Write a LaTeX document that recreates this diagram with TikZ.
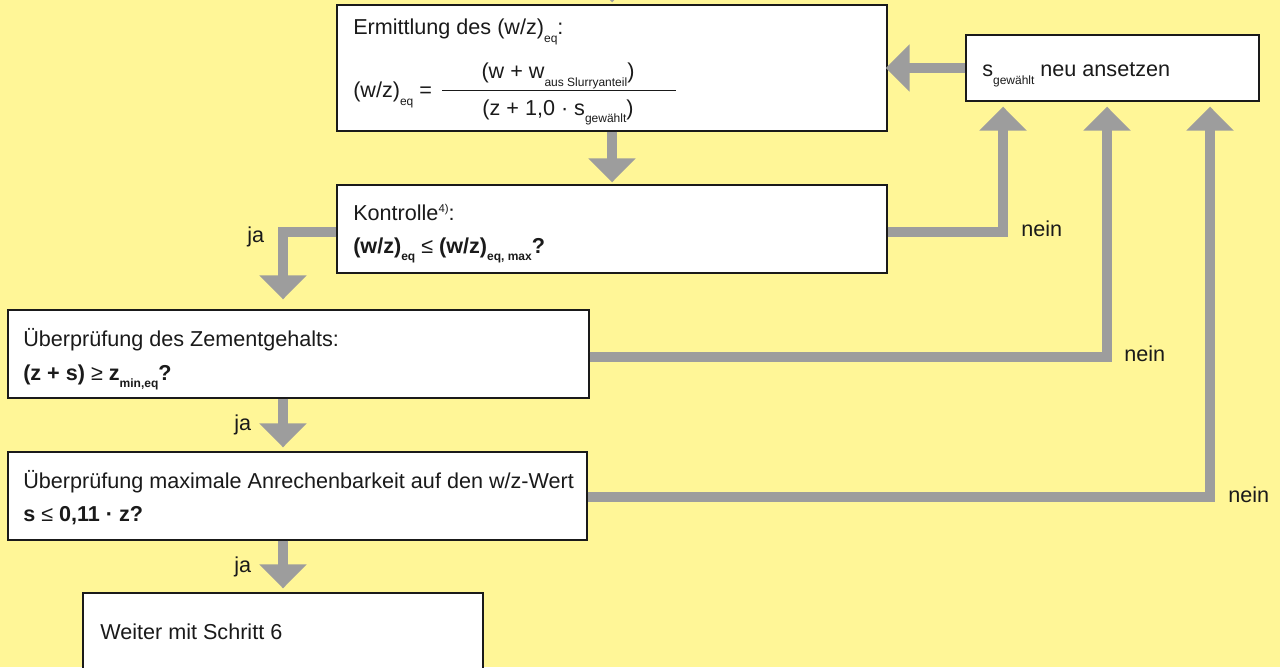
\documentclass[tikz,border=0pt]{standalone}
\usepackage{fontspec}
\setmainfont{Liberation Sans}
\usetikzlibrary{arrows.meta,calc}
\definecolor{bg}{HTML}{FFF697}
\definecolor{arr}{HTML}{9D9D9D}
\definecolor{ink}{HTML}{1A1A1A}
\newcommand{\sbx}[1]{\raisebox{-5.5pt}{\fontsize{9}{10}\selectfont #1}}
\newcommand{\spx}[1]{\raisebox{6pt}{\fontsize{8.5}{9}\selectfont #1}}
\begin{document}
\begin{tikzpicture}[x=0.75pt,y=-0.75pt,
  box/.style={draw=ink,line width=1pt,fill=white,inner sep=0pt,rectangle},
  flow/.style={draw=arr,line width=7.5pt,line join=miter,-{Triangle[length=18pt,width=34.5pt]}},
  txt/.style={anchor=base west,inner sep=0pt,text=ink,font=\fontsize{16.2}{19}\selectfont},
  lbl/.style={anchor=base west,inner sep=0pt,text=ink,font=\fontsize{16.2}{19}\selectfont}]
\useasboundingbox (0,0) rectangle (1280,667);
\clip (0,0) rectangle (1280,667);
\fill[bg] (0,0) rectangle (1280,667);
% boxes
\node[box,minimum width=412.5pt,minimum height=94.5pt] (b1) at (612,68) {};
\node[box,minimum width=219.75pt,minimum height=49.5pt] (bs) at (1112.5,68) {};
\node[box,minimum width=412.5pt,minimum height=66pt] (bk) at (612,229) {};
\node[box,minimum width=435.75pt,minimum height=66pt] (bz) at (298.5,354) {};
\node[box,minimum width=434.25pt,minimum height=66pt] (bm) at (297.5,496) {};
\node[box,minimum width=300pt,minimum height=95.25pt] (bw) at (283,656.5) {};
% helper coordinates
\coordinate (top) at (612,-40);
\coordinate (k1) at (1003,232);
\coordinate (k2) at (1107,357);
\coordinate (k3) at (1210,497);
\coordinate (j1) at (283,232);
% connectors
\draw[flow,shorten >=1.5pt] (top) -- (b1.north);
\draw[flow,shorten >=-1.5pt] (bs.west) -- (b1.east);
\draw[flow,shorten >=1.5pt] (b1.south) -- (bk.north);
\draw[flow,shorten >=3.75pt] ([yshift=-2.25pt]bk.east) -| (k1 |- bs.south);
\draw[flow,shorten >=3.75pt] ([yshift=-2.25pt]bz.east) -| (k2 |- bs.south);
\draw[flow,shorten >=3.75pt] ([yshift=-0.75pt]bm.east) -| (k3 |- bs.south);
\draw[flow,shorten >=7.5pt] ([yshift=-2.25pt]bk.west) -| (j1 |- bz.north);
\draw[flow,shorten >=3pt] (j1 |- bz.south) -- (j1 |- bm.north);
\draw[flow,shorten >=3pt] (j1 |- bm.south) -- (j1 |- bw.north);
% texts
\node[txt] (t1) at (353,35) {Ermittlung des (w/z)\sbx{eq}:};
\node[txt] (t2) at (353,98) {(w/z)\sbx{eq} =};
\node[txt,anchor=base] (t3) at (558,79) {(w + w\sbx{aus Slurryanteil})};
\draw[ink,line width=0.75pt] (442,90) -- (676,90);
\node[txt,anchor=base] (t4) at (558,115) {(z + 1,0 · s\sbx{gewählt})};
\node[txt] (ts) at (982,77) {s\sbx{gewählt} neu ansetzen};
\node[txt] (tk1) at (353,220) {Kontrolle\spx{4)}:};
\node[txt] (tk2) at (353,253) {\textbf{(w/z)\sbx{eq}} ≤ \textbf{(w/z)\sbx{eq, max}?}};
\node[txt] (tz1) at (23,346) {Überprüfung des Zementgehalts:};
\node[txt] (tz2) at (23,380) {\textbf{(z + s)} ≥ \textbf{z\sbx{min,eq}?}};
\node[txt] (tm1) at (23,488) {Überprüfung maximale Anrechenbarkeit auf den w/z-Wert};
\node[txt] (tm2) at (23,521) {\textbf{s} ≤ \textbf{0,11 · z?}};
\node[txt] (tw) at (100,639) {Weiter mit Schritt 6};
% labels
\node[lbl] (ja1) at (247,242) {ja};
\node[lbl] (ja2) at (234,430) {ja};
\node[lbl] (ja3) at (234,572) {ja};
\node[lbl] (n1) at (1021,236) {nein};
\node[lbl] (n2) at (1124,361) {nein};
\node[lbl] (n3) at (1228,502) {nein};
\end{tikzpicture}
\end{document}
